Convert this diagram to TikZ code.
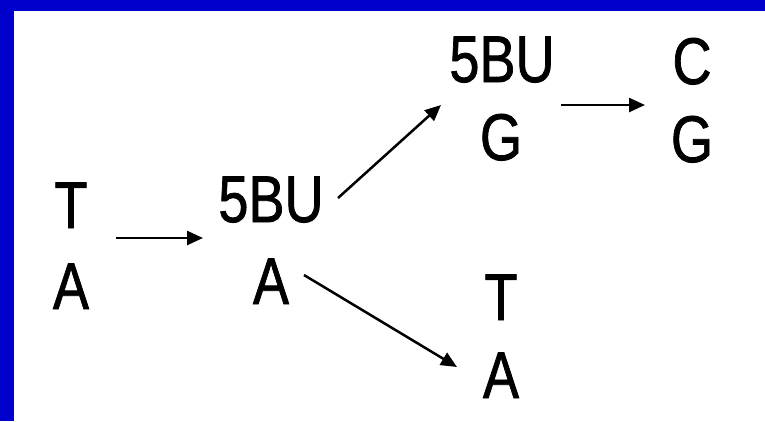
\documentclass[tikz,border=0pt]{standalone}
\usepackage{fontspec}
\setmainfont{Liberation Sans}
\newfontfamily\heavy{Liberation Sans}[FakeBold=1.3]
\usetikzlibrary{arrows.meta}
\definecolor{frameblue}{RGB}{0,0,204}
\tikzset{
  base/.style={anchor=base, inner sep=0pt, font=\heavy\fontsize{66}{70}\selectfont},
  conn/.style={line width=2.5pt, -{Triangle[length=16pt,width=14pt]}}
}
\newcommand{\nx}[1]{\scalebox{0.82}[1]{#1}}
\begin{document}
\begin{tikzpicture}[x=1pt,y=-1pt]
\useasboundingbox (0,0) rectangle (765,421);
\fill[white] (0,0) rectangle (765,421);
\fill[frameblue] (0,0) rectangle (765,11);
\fill[frameblue] (0,0) rectangle (14,421);
% left pair
\node[base] (t1) at (71,228) {\nx{T}};
\node[base] (a1) at (71,309) {\nx{A}};
% middle pair
\node[base] (b2) at (271,222) {\nx{5BU}};
\node[base] (a2) at (271,304) {\nx{A}};
% upper right pair
\node[base] (b3) at (502,82) {\nx{5BU}};
\node[base] (g3) at (501,160) {\nx{G}};
% far right pair
\node[base] (c4) at (692,84) {\nx{C}};
\node[base] (g4) at (692,162) {\nx{G}};
% lower pair
\node[base] (t5) at (501,320) {\nx{T}};
\node[base] (a5) at (501,398) {\nx{A}};
% arrow endpoints
\coordinate (s1) at (116,238);
\coordinate (e1) at (203,238);
\coordinate (s2) at (338,198);
\coordinate (e2) at (441,105);
\coordinate (s3) at (561,105);
\coordinate (e3) at (645,105);
\coordinate (s4) at (304,275);
\coordinate (e4) at (457,367);
\draw[conn] (s1) -- (e1);
\draw[conn] (s2) -- (e2);
\draw[conn] (s3) -- (e3);
\draw[conn] (s4) -- (e4);
\end{tikzpicture}
\end{document}
